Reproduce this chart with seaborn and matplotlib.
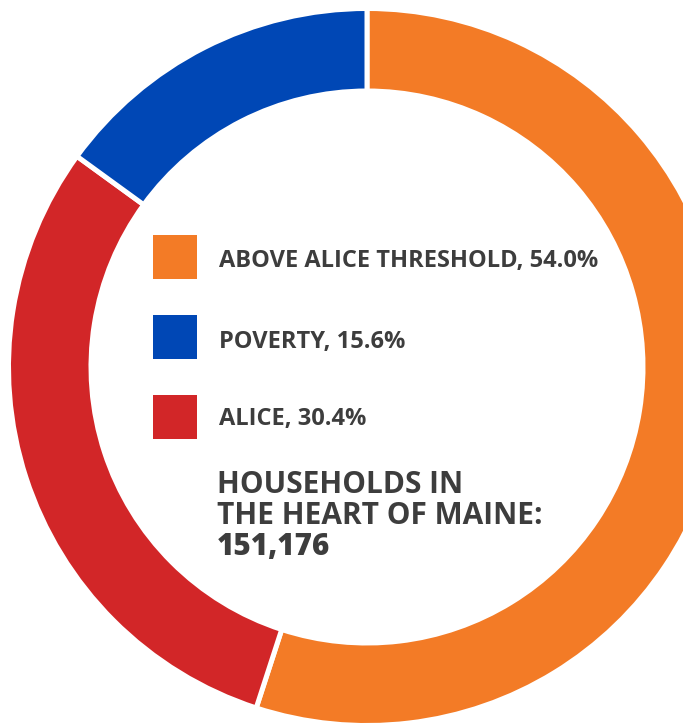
import matplotlib
matplotlib.use("Agg")
import matplotlib.pyplot as plt
from matplotlib.patches import Rectangle
import seaborn as sns

# ---- data ----
categories = ["ABOVE ALICE THRESHOLD", "ALICE", "POVERTY"]
shares = [55.0, 30.0, 15.0]          # arc sizes as drawn in the picture
label_pct = [54.0, 30.4, 15.6]       # percentages printed in the legend
colors = ["#F37B26", "#D22628", "#0047B5"]
legend_order = ["ABOVE ALICE THRESHOLD", "POVERTY", "ALICE"]
total_label = ["HOUSEHOLDS IN", "THE HEART OF MAINE:"]
total_households = 151176

sns.set_style("white")
plt.rcParams["font.family"] = ["Open Sans", "DejaVu Sans"]

W, H = 683, 723
fig = plt.figure(figsize=(W / 100, H / 100), dpi=100)
ax = fig.add_axes([0, 0, 1, 1])

cx, cy = 367, H - 367
R_out, R_in = 358.5, 276
ax.pie(shares, colors=colors, startangle=90, counterclock=False,
       radius=R_out, center=(cx, cy),
       wedgeprops=dict(width=R_out - R_in, edgecolor="white", linewidth=3.6))
ax.set_xlim(0, W)
ax.set_ylim(0, H)
ax.set_aspect("equal")
ax.axis("off")

txt_color = "#3D3D3D"
col_map = dict(zip(categories, colors))
val_map = dict(zip(categories, label_pct))
sq_top = [235, 315, 395]
baselines = [267, 348, 425.5]
for name, top, base in zip(legend_order, sq_top, baselines):
    ax.add_patch(Rectangle((153, H - top - 43.5), 44, 43.5,
                           facecolor=col_map[name], edgecolor="none"))
    ax.text(219, H - base, f"{name}, {val_map[name]:.1f}%",
            fontsize=17.0, fontweight="bold", color=txt_color,
            ha="left", va="baseline")

for line, base in zip(total_label, [493.3, 524.3]):
    ax.text(217, H - base, line, fontsize=21.5, fontweight="bold",
            color=txt_color, ha="left", va="baseline")
ax.text(217, H - 555, f"{total_households:,}", fontsize=21.3,
        fontweight="heavy", color=txt_color, ha="left", va="baseline")

fig.savefig("out.png", dpi=100)
